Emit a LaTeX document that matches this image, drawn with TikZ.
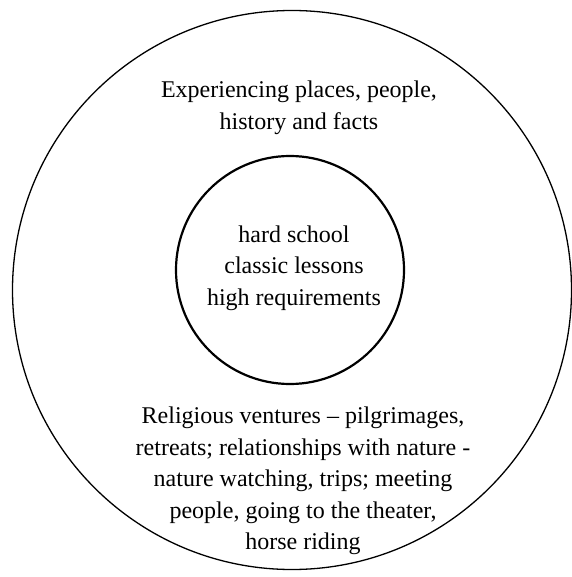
\documentclass[tikz,border=0pt]{standalone}
\usepackage{fontspec}
\setmainfont{Liberation Serif}
\begin{document}
\begin{tikzpicture}[x=1pt, y=-1pt,
    ring/.style={circle, draw, inner sep=0pt},
    words/.style={align=center, inner sep=0pt, font=\fontsize{24}{31.5}\selectfont}]
  % The outer ring holds the experiences, the inner ring the school.
  \useasboundingbox (0,0) rectangle (571,577);
  \node[ring, line width=1.3pt, minimum size=559pt] (outer) at (292,290) {};
  \node[ring, line width=2.2pt, minimum size=228pt] (inner) at (290,270) {};
  \node[words] (core) at (294,268) {hard school\\classic lessons\\high requirements};
  \node[words] (upper) at (299,108) {Experiencing places, people,\\history and facts};
  \node[words] (lower) at (303,481) {Religious ventures -- pilgrimages,\\retreats; relationships with nature -\\nature watching, trips; meeting\\people, going to the theater,\\horse riding};
\end{tikzpicture}
\end{document}
